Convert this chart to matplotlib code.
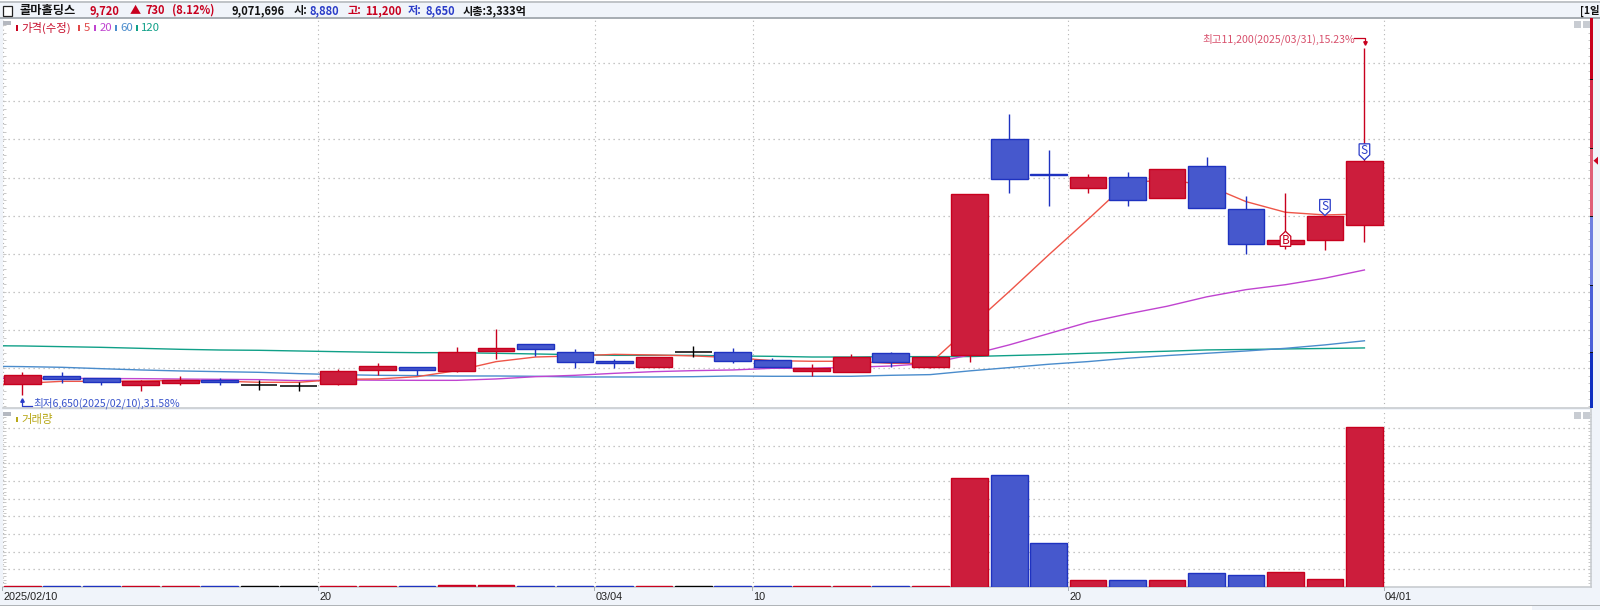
import matplotlib
matplotlib.use("Agg")
import matplotlib.pyplot as plt
from matplotlib.patches import Polygon, Rectangle
from matplotlib.transforms import ScaledTranslation

plt.rcParams['font.family'] = ['Noto Sans CJK KR', 'DejaVu Sans']

W, H = 1600, 610

# OHLC, 2025/02/10 - 2025/03/31
opens = [6792, 6897, 6866, 6779, 6810, 6849, 6775, 6762, 6792, 6971, 7015, 6958, 7221, 7321, 7208, 7094, 7020, 7208,
         7208, 7103, 6958, 6954, 7195, 7020, 7173, 10003, 9550, 9360, 9504, 9229, 9653, 9084, 8625, 8682, 8880]
closes = [6906, 6858, 6814, 6831, 6849, 6823, 6775, 6762, 6958, 7028, 6980, 7208, 7264, 7256, 7085, 7072, 7146, 7208,
          7098, 7020, 7002, 7146, 7085, 7146, 9290, 9482, 9535, 9504, 9211, 9609, 9106, 8625, 8686, 8990, 9720]
highs = [6954, 6950, 6866, 6845, 6902, 6871, 6849, 6814, 6993, 7063, 7015, 7278, 7514, 7321, 7247, 7120, 7146, 7291,
         7264, 7129, 7059, 7186, 7208, 7146, 9290, 10335, 9858, 9544, 9574, 9609, 9771, 9259, 9294, 8997, 11200]
lows = [6650, 6810, 6783, 6700, 6779, 6779, 6713, 6696, 6779, 6910, 6910, 6945, 7125, 7164, 7002, 7002, 7020, 7146,
        7063, 7020, 6902, 6954, 7015, 7007, 7086, 9294, 9128, 9294, 9128, 9229, 9106, 8498, 8559, 8550, 8650]
# 'r' up, 'b' down, 'k' unchanged
directions = list("rbbrrbkkrrbrrbbbrkbbrrbrrbbrbrbbrrr")

# moving averages, first value is the session before the window
ma_days = list(range(-1, 35))
ma5 = [6770, 6800, 6827, 6827, 6831, 6840, 6830, 6814, 6814, 6853, 6858, 6888, 6967, 7085, 7146, 7160, 7181, 7173, 7160,
       7138, 7098, 7090, 7090, 7063, 7064, 7536, 8004, 8485, 8953, 9434, 9469, 9403, 9185, 9045, 9010, 9023]
ma20 = [6868, 6866, 6866, 6864, 6862, 6857, 6853, 6849, 6836, 6845, 6842, 6840, 6840, 6858, 6888, 6906, 6932, 6954, 6967,
        6976, 6998, 6998, 7011, 7028, 7063, 7173, 7305, 7453, 7602, 7711, 7812, 7935, 8030, 8095, 8180, 8288]
ma60 = [7025, 7020, 7011, 6993, 6976, 6963, 6954, 6945, 6928, 6915, 6906, 6902, 6897, 6897, 6893, 6884, 6884, 6884, 6888,
        6897, 6893, 6893, 6893, 6906, 6915, 6964, 7007, 7051, 7086, 7130, 7165, 7195, 7225, 7260, 7305, 7359]
ma120 = [7295, 7291, 7282, 7273, 7260, 7247, 7238, 7234, 7225, 7216, 7208, 7203, 7203, 7195, 7186, 7177, 7168, 7168, 7168,
         7160, 7155, 7146, 7146, 7151, 7151, 7152, 7165, 7178, 7195, 7208, 7222, 7239, 7245, 7252, 7258, 7265]

# volume in millions of shares
volumes = [0.05, 0.05, 0.05, 0.05, 0.05, 0.05, 0.05, 0.05, 0.05, 0.05, 0.05, 0.12, 0.12, 0.05, 0.05, 0.05, 0.05, 0.05,
           0.05, 0.05, 0.05, 0.05, 0.05, 0.05, 6.16, 6.34, 2.47, 0.38, 0.38, 0.37, 0.77, 0.66, 0.87, 0.47, 9.07]

date_ticks = [0, 8, 15, 19, 27, 35]
date_labels = ["2025/02/10", "20", "03/04", "10", "20", "04/01"]
price_grid = [7000, 7500, 8000, 8500, 9000, 9500, 10000, 10500, 11000]
volume_grid = [1, 2, 3, 4, 5, 6, 7, 8, 9]

FILL = {'r': '#cc1d3c', 'b': '#4658cd', 'k': '#000000'}
EDGE = {'r': '#c8001e', 'b': '#1e32c0', 'k': '#000000'}
GRID = '#b4b4b4'
STRIP = '#f0f4fa'


def pane(x0, y0, x1, y1):
    # axes placed by pixel box, y measured from the top of the picture
    return fig.add_axes([x0 / W, 1 - y1 / H, (x1 - x0) / W, (y1 - y0) / H])


def label(x, y, s, color, size=8, **kw):
    fig.text(x / W, 1 - y / H, s, color=color, fontsize=size, va='center', **kw)


def box(x0, y0, x1, y1, color, **kw):
    fig.add_artist(Rectangle((x0 / W, 1 - y1 / H), (x1 - x0) / W, (y1 - y0) / H, transform=fig.transFigure,
                             facecolor=color, edgecolor='none', **kw))


fig = plt.figure(figsize=(16, 6.1), dpi=100, facecolor=STRIP)

ax = pane(2.6, 18, 1591, 408)
vol = pane(2.6, 409.5, 1591, 587)
xs = list(range(35))
xlim = (-0.5, 39.74)

for a in (ax, vol):
    a.set_xlim(xlim)
    a.set_xticks([])
    a.tick_params(axis='y', which='major', left=True, right=True, direction='in', length=2.5, width=0.7,
                  color='#c8c8c8', labelleft=False)
    for side, sp in a.spines.items():
        sp.set_color('#c8ccd0')
        sp.set_linewidth(1.2)
    for t in date_ticks:
        a.axvline(t - 0.5, color=GRID, lw=0.8, ls=(0, (1, 3)), zorder=1)
    a.spines['top'].set_visible(False)
    a.spines['left'].set_visible(False)
ax.spines['right'].set_visible(False)

ax.set_ylim(6477, 11594)
ax.set_yticks(range(6500, 11600, 100))
for p in price_grid:
    ax.axhline(p, color=GRID, lw=0.9, ls=(0, (1, 3)), zorder=1)

# moving averages sit under the candles
ax.plot(ma_days, ma120, color='#10a088', lw=1, zorder=2)
ax.plot(ma_days, ma60, color='#4a8ccc', lw=1, zorder=2)
ax.plot(ma_days, ma20, color='#c044d0', lw=1, zorder=2)
ax.plot(ma_days, ma5, color='#ee5548', lw=1, zorder=2)

for i in xs:
    d = directions[i]
    ax.vlines(i, lows[i], highs[i], color=EDGE[d], lw=1, zorder=3)
    bottom = min(opens[i], closes[i])
    height = abs(closes[i] - opens[i])
    if d == 'k':
        ax.hlines(closes[i], i - 0.46, i + 0.46, color='black', lw=1.1, zorder=4)
    else:
        ax.bar(i, height, bottom=bottom, width=0.93, color=FILL[d], edgecolor=EDGE[d], linewidth=1, zorder=4)

# buy / sell flags, shapes in pixels around the candle they mark
s_shape = [(0, 1), (5.3, 6), (5.3, 17), (-5.3, 17), (-5.3, 6)]
b_shape = [(0, 0), (5.3, -5), (5.3, -15), (-5.3, -15), (-5.3, -5)]


def flag(i, price, shape, s, color, dy):
    tr = fig.dpi_scale_trans + ScaledTranslation(i, price, ax.transData)
    ax.add_patch(Polygon([(x / 100, y / 100) for x, y in shape], transform=tr, facecolor='white', edgecolor=color,
                         lw=0.9, zorder=6))
    ax.annotate(s, xy=(i, price), xytext=(0, dy), textcoords='offset pixels', ha='center', va='center', color=color,
                fontsize=8.5, zorder=7)


flag(33, 8990, s_shape, 'S', '#2a3cc8', 10)
flag(34, 9720, s_shape, 'S', '#2a3cc8', 10)
flag(32, 8795, b_shape, 'B', '#c8001e', -9)

vol.set_ylim(0, 10.04)
vol.set_yticks([n / 5 for n in range(1, 50)])
for v in volume_grid:
    vol.axhline(v, color=GRID, lw=0.9, ls=(0, (1, 3)), zorder=1)
vol.bar(xs, volumes, width=0.93, color=[FILL[d] for d in directions], edgecolor=[EDGE[d] for d in directions],
        linewidth=1, zorder=3)

# high / low call-outs
label(1202, 39, "최고11,200(2025/03/31),15.23%", '#d8506c', size=7.6)
fig.add_artist(plt.Line2D([1354 / W, 1364.5 / W, 1364.5 / W], [1 - 38 / H, 1 - 38 / H, 1 - 43 / H], color='#c8001e', lw=0.9,
                          marker='v', markersize=2.5, markevery=[2]))
label(33, 403, "최저6,650(2025/02/10),31.58%", '#3a55cc', size=7.6)
fig.add_artist(plt.Line2D([32 / W, 22 / W, 22 / W], [1 - 405.5 / H, 1 - 405.5 / H, 1 - 400 / H], color='#2a3cc8', lw=0.9,
                          marker='^', markersize=2.5, markevery=[2]))

# header row
box(0, 0, W, 1, 'white')
box(0, 1, W, 2.5, '#c0c4c8')
box(0, 17, W, 18.5, '#a8aeb4')
fig.add_artist(Rectangle((2.5 / W, 1 - 15.5 / H), 9 / W, 9.5 / H, transform=fig.transFigure, facecolor='white', edgecolor='#222222', lw=0.9))
hy = 10.5
label(20, hy, "콜마홀딩스", '#111111', size=8.8, fontweight='bold')
for x, s, c in [(90, "9,720", '#c8001e'), (130, "▲", '#c8001e'), (145, "730", '#c8001e'),
                (172, "(8.12%)", '#c8001e'), (231, "9,071,696", '#111111'), (294, "시:", '#111111'), (310, "8,880", '#2a3cc8'),
                (348, "고:", '#c8001e'), (365, "11,200", '#c8001e'), (408, "저:", '#2a3cc8'), (425, "8,650", '#2a3cc8'),
                (463, "시총:3,333억", '#111111')]:
    label(x, hy, s, c, size=8, fontweight='bold')
label(1580, hy, "[1일", '#111111', size=7.5, fontweight='bold')

# legends
for x, y, c in [(16, 28, '#c8001e'), (78, 28, '#e04848'), (94, 28, '#c044d0'), (115, 28, '#4a8ccc'), (135.5, 28, '#10a088'),
                (16, 419, '#b8a818')]:
    box(x, y - 2.5, x + 2, y + 2.5, c)
for x, y, s, c in [(21, 28, "가격(수정)", '#c8102e', ), (84, 28, "5", '#e04848'), (100, 28, "20", '#c044d0'), (120, 28, "60", '#4a8ccc'),
                   (141, 28, "120", '#10a088'), (21, 419, "거래량", '#b8a818')]:
    label(x, y, s, c, size=8.2)

# pane buttons
for y in (21, 412):
    box(3, y, 11, y + 4, '#b4b8c0')
    box(1574, y, 1581, y + 7, '#c8ccd2')
    box(1583, y, 1590, y + 7, '#c8ccd2')

# price position bar on the right edge
for y0, y1, c in [(18, 79, '#c8001e'), (79, 148, '#d42848'), (148, 216, '#e06078'), (216, 285, '#7080e0'), (285, 352, '#4a60d8'),
                  (352, 408, '#1030c0')]:
    box(1590, y0, 1593.3, y1, c)
for y in (79, 148, 216, 285, 352):
    box(1590, y - 0.5, 1593.3, y + 0.5, '#111111')
fig.add_artist(Polygon([(1593.5 / W, 1 - 160.7 / H), (1598 / W, 1 - 156.7 / H), (1598 / W, 1 - 164.7 / H)], transform=fig.transFigure,
                       facecolor='#c8001e', edgecolor='none'))

# date strip
for t, s in zip(date_ticks, date_labels):
    x = 22.3 + (t - 0.5) * 39.47
    box(x - 0.5, 587, x + 0.5, 591, '#a8aeb4')
    label(x + 1, 597, s, '#222222', size=7.8, family=['Liberation Sans', 'DejaVu Sans'])
box(0, 604.5, W, 606, '#b0b4b8')
box(0, 606, 1532, H, 'white')

fig.savefig("out.png", dpi=100, facecolor=fig.get_facecolor())
